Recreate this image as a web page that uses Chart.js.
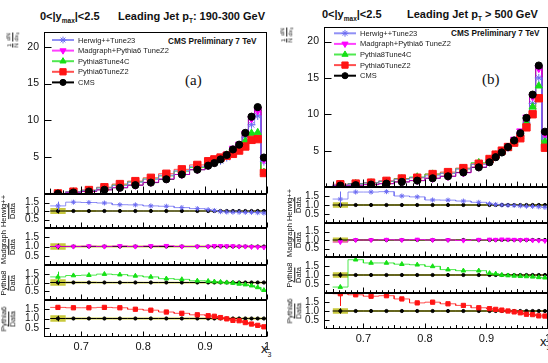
<!DOCTYPE html>
<html>
<head>
<meta charset="utf-8">
<title>x3 distributions, CMS 7 TeV</title>
<script src="https://cdn.jsdelivr.net/npm/chart.js@4.4.1/dist/chart.umd.min.js"></script>
<style>
  html, body { margin: 0; padding: 0; background: #fff; overflow: hidden; }
  body { position: relative; width: 548px; height: 363px; font-family: "Liberation Sans", Arial, sans-serif; color: #111; }
  canvas { position: absolute; }
  .lbl { position: absolute; white-space: nowrap; line-height: 1; }
  .title { font-weight: bold; font-size: 11px; }
  .title sub { font-size: 6.5px; position: relative; top: 3px; vertical-align: baseline; }
  .cms { font-weight: bold; font-size: 8.2px; }
  .pad { font-family: "Liberation Serif", serif; font-size: 15px; }
  .xtitle { font-size: 13px; }
  .xtitle sub { font-size: 7px; position: relative; top: 4px; vertical-align: baseline; }
  .rot { position: absolute; transform: translate(-50%, -50%) rotate(-90deg); white-space: nowrap; display: flex; align-items: center; gap: 2px; }
  .frac { display: inline-flex; flex-direction: column; align-items: center; line-height: 1.1; }
  .frac > span + span { border-top: 0.7px solid #111; }
  .rot sub { font-size: 0.7em; vertical-align: -0.3em; }
  .ytitle { font-size: 6px; }
  .rtitle { font-size: 7.5px; }
</style>
</head>
<body>
<div class="lbl title" style="left:40px;top:11px">0&lt;|y<sub>max</sub>|&lt;2.5</div>
<div class="lbl title" style="left:118px;top:11px">Leading Jet p<sub>T</sub>: 190-300 GeV</div>
<div class="lbl title" style="left:322px;top:9px">0&lt;|y<sub>max</sub>|&lt;2.5</div>
<div class="lbl title" style="left:407px;top:9px">Leading Jet p<sub>T</sub> &gt; 500 GeV</div>
<div class="lbl cms" style="left:168px;top:38px">CMS Preliminary 7 TeV</div>
<div class="lbl cms" style="left:451px;top:30px">CMS Preliminary 7 TeV</div>
<div class="lbl pad" style="left:185px;top:73px">(a)</div>
<div class="lbl pad" style="left:482px;top:72px">(b)</div>
<div class="lbl xtitle" style="left:261px;top:342px">x<sub>3</sub></div>
<div class="lbl xtitle" style="left:540px;top:335px">x<sub>3</sub></div>

<script>
// x3 bins: 0.025 wide up to 0.9, then 0.01 wide
const binEdges = [0.65, 0.675, 0.7, 0.725, 0.75, 0.775, 0.8, 0.825, 0.85, 0.875, 0.9,
                  0.91, 0.92, 0.93, 0.94, 0.95, 0.96, 0.97, 0.98, 0.99, 1.0];
const xTickVals = [0.7, 0.8, 0.9, 1.0];
const mainTickVals = [5, 10, 15, 20];
const ratioTickVals = [0.5, 1.0, 1.5];
const seriesNames = ["Herwig++Tune23", "Madgraph+Pythia6 TuneZ2", "Pythia8Tune4C", "Pythia6TuneZ2", "CMS"];
const ratioNames = ["Herwig++", "Madgraph", "Pythia8", "Pythia6"];
const dataOverData = [1, 1, 1, 1, 1, 1, 1, 1, 1, 1, 1, 1, 1, 1, 1, 1, 1, 1, 1, 1];

// (a) leading jet pT 190-300 GeV
const cmsA      = [0.05, 0.2, 0.34, 0.57, 0.85, 1.2, 1.55, 2.0, 2.65, 3.3, 3.85, 4.2, 4.7, 5.3, 6.05, 6.7, 8.3, 10.5, 11.8, 4.95];
const herwigA   = [0.07, 0.3, 0.5, 0.83, 1.15, 1.6, 2.0, 2.55, 3.15, 3.75, 4.15, 4.3, 4.5, 4.95, 5.6, 6.25, 7.7, 9.4, 10.6, 4.4];
const madgraphA = [0.05, 0.2, 0.35, 0.57, 0.88, 1.2, 1.6, 2.05, 2.65, 3.3, 3.85, 4.3, 4.85, 5.4, 6.2, 6.75, 8.2, 10.2, 11.3, 4.7];
const pythia8A  = [0.07, 0.28, 0.48, 0.84, 1.23, 1.65, 2.05, 2.45, 3.1, 3.6, 4.15, 4.4, 4.85, 5.3, 5.85, 6.2, 7.2, 8.25, 8.35, 2.95];
const pythia6A  = [0.08, 0.32, 0.54, 0.92, 1.35, 1.75, 2.2, 2.75, 3.35, 3.95, 4.45, 4.7, 4.95, 5.2, 5.45, 5.9, 6.45, 7.35, 7.45, 2.85];
const herwigRatioA   = [1.3, 1.52, 1.5, 1.47, 1.37, 1.36, 1.3, 1.28, 1.2, 1.14, 1.08, 1.03, 0.96, 0.94, 0.93, 0.93, 0.92, 0.92, 0.9, 0.88];
const madgraphRatioA = [1.0, 1.0, 1.02, 1.0, 1.03, 1.0, 1.03, 1.04, 1.0, 1.0, 1.0, 1.03, 1.03, 1.02, 1.02, 1.0, 1.0, 0.98, 0.97, 0.95];
const pythia8RatioA  = [1.32, 1.4, 1.42, 1.48, 1.45, 1.38, 1.32, 1.22, 1.18, 1.1, 1.08, 1.05, 1.03, 1.0, 0.97, 0.92, 0.88, 0.82, 0.72, 0.56];
const pythia6RatioA  = [1.6, 1.58, 1.58, 1.6, 1.58, 1.5, 1.45, 1.35, 1.28, 1.2, 1.15, 1.12, 1.05, 0.98, 0.9, 0.88, 0.78, 0.7, 0.63, 0.55];
const systA = [0.18, 0.06, 0.06, 0.05, 0.05, 0.05, 0.05, 0.05, 0.05, 0.05, 0.05, 0.05, 0.05, 0.05, 0.05, 0.05, 0.05, 0.05, 0.05, 0.05];
const firstBinErrA = [0.25, 0.1, 0.3, 0.12, 0.15]; // Herwig, Madgraph, Pythia8, Pythia6, CMS

// (b) leading jet pT > 500 GeV
const cmsB      = [0.2, 0.25, 0.33, 0.46, 0.7, 0.88, 1.2, 1.47, 2.0, 2.7, 3.4, 4.1, 4.75, 5.5, 6.4, 7.4, 9.5, 12.7, 16.7, 7.6];
const herwigB   = [0.27, 0.43, 0.57, 0.8, 1.05, 1.28, 1.55, 1.87, 2.45, 3.1, 3.65, 4.25, 4.8, 5.35, 6.2, 7.0, 8.8, 11.5, 15.0, 6.6];
const madgraphB = [0.18, 0.25, 0.34, 0.47, 0.7, 0.9, 1.2, 1.47, 1.95, 2.75, 3.5, 4.2, 4.95, 5.65, 6.55, 7.7, 9.6, 12.4, 16.3, 7.2];
const pythia8B  = [0.07, 0.46, 0.55, 0.76, 1.12, 1.38, 1.78, 1.9, 2.5, 3.35, 3.75, 4.4, 4.9, 5.35, 6.1, 6.9, 8.8, 11.0, 13.9, 6.2];
const pythia6B  = [0.38, 0.47, 0.6, 0.85, 1.17, 1.28, 1.78, 2.05, 2.6, 3.2, 3.85, 4.45, 5.0, 5.5, 6.1, 6.7, 8.2, 10.0, 12.2, 5.4];
const herwigRatioB   = [1.33, 1.72, 1.72, 1.74, 1.5, 1.45, 1.28, 1.27, 1.22, 1.15, 1.07, 1.03, 1.0, 0.98, 0.97, 0.95, 0.93, 0.92, 0.9, 0.87];
const madgraphRatioB = [0.88, 1.0, 1.0, 1.02, 1.0, 1.03, 1.0, 1.0, 0.97, 1.02, 1.03, 1.02, 1.04, 1.03, 1.02, 1.0, 1.02, 0.98, 0.97, 0.95];
const pythia8RatioB  = [0.33, 1.85, 1.67, 1.67, 1.6, 1.57, 1.48, 1.3, 1.24, 1.24, 1.1, 1.07, 1.0, 0.97, 0.95, 0.93, 0.92, 0.9, 0.87, 0.85];
const pythia6RatioB  = [1.96, 1.9, 1.82, 1.85, 1.67, 1.45, 1.49, 1.4, 1.31, 1.18, 1.13, 1.09, 1.05, 1.0, 0.95, 0.9, 0.82, 0.8, 0.73, 0.72];
const systB = [0.15, 0.06, 0.06, 0.05, 0.05, 0.05, 0.05, 0.05, 0.05, 0.05, 0.05, 0.05, 0.05, 0.05, 0.05, 0.05, 0.05, 0.05, 0.05, 0.05];
const firstBinErrB = [0.42, 0.1, 0, 0.68, 0.15];

// marker / line styles, same order as seriesNames
const styles = [
  { color: '#6b6bf2', line: 'rgba(107,107,242,0.75)', pointStyle: 'star', rotation: 0, rMain: 4, rRatio: 2.5 },
  { color: '#ff00ff', line: 'rgba(255,0,255,0.75)', pointStyle: 'triangle', rotation: 180, rMain: 4.2, rRatio: 2.6 },
  { color: '#16e016', line: 'rgba(22,224,22,0.75)', pointStyle: 'triangle', rotation: 0, rMain: 4.2, rRatio: 2.6 },
  { color: '#ff1414', line: 'rgba(255,20,20,0.75)', pointStyle: 'rect', rotation: 0, rMain: 5.2, rRatio: 3 },
  { color: '#000000', line: '#000000', pointStyle: 'circle', rotation: 0, rMain: 3.6, rRatio: 1.6 }
];
const markerOrder = [4, 3, 2, 1, 0];
const BAND = '#c9c93e';

const panels = [
  { main: [herwigA, madgraphA, pythia8A, pythia6A, cmsA],
    ratio: [herwigRatioA, madgraphRatioA, pythia8RatioA, pythia6RatioA],
    syst: systA, errs: firstBinErrA,
    left: 44, right: 267, xMin: 0.64, rows: [32, 194, 228, 265, 300, 337],
    legend: { left: 8, top: 8, step: 10.6 }, yTitle: [12.5, 40], ratioTitleX: 8.5 },
  { main: [herwigB, madgraphB, pythia8B, pythia6B, cmsB],
    ratio: [herwigRatioB, madgraphRatioB, pythia8RatioB, pythia6RatioB],
    syst: systB, errs: firstBinErrB,
    left: 324, right: 548, xMin: 0.636, rows: [27, 187, 223, 257, 293, 329],
    legend: { left: 10, top: 6.3, step: 10.6 }, yTitle: [286.5, 35], ratioTitleX: 295 }
];

const centers = binEdges.slice(1).map((e, i) => (binEdges[i] + e) / 2);
const asPoints = vals => vals.map((v, i) => ({ x: centers[i], y: v }));
const asSteps = vals => vals.flatMap((v, i) => [{ x: binEdges[i], y: v }, { x: binEdges[i + 1], y: v }]);

Chart.defaults.font.family = '"Liberation Sans", Arial, sans-serif';
Chart.defaults.color = '#111';

// ROOT-like frame, inward ticks and first-bin error bars
const rootFrame = {
  id: 'rootFrame',
  afterDatasetsDraw(chart, args, o) {
    const { ctx, chartArea: a, scales: { x, y } } = chart;
    ctx.save();
    ctx.lineWidth = 1;
    chart.data.datasets.forEach(ds => {
      if (!ds.errFirst) return;
      const p = ds.data[0];
      const px = Math.round(x.getPixelForValue(p.x)) + 0.5;
      ctx.strokeStyle = ds.pointBorderColor;
      ctx.beginPath();
      ctx.moveTo(px, Math.max(a.top, y.getPixelForValue(p.y + ds.errFirst)));
      ctx.lineTo(px, Math.min(a.bottom, y.getPixelForValue(p.y - ds.errFirst)));
      ctx.stroke();
    });
    ctx.strokeStyle = '#000';
    const L = Math.round(a.left) + 0.5, T = Math.round(a.top) + 0.5;
    const R = Math.round(a.right) - 0.5, B = Math.round(a.bottom) - 0.5;
    ctx.strokeRect(L, T, R - L, B - T);
    ctx.beginPath();
    o.yTicks.forEach(v => {
      const py = Math.round(y.getPixelForValue(v)) + 0.5;
      ctx.moveTo(L, py); ctx.lineTo(L + o.yLen, py);
    });
    for (let k = Math.ceil(x.min * 100); k <= 100; k++) {
      const px = Math.round(x.getPixelForValue(k / 100)) + 0.5;
      const len = k % 10 === 0 ? o.xLen : (k % 5 === 0 ? o.xLen * 0.7 : o.xLen * 0.45);
      ctx.moveTo(px, B); ctx.lineTo(px, B - len);
    }
    ctx.stroke();
    ctx.restore();
  }
};

const legendBox = {
  id: 'legendBox',
  afterDraw(chart, args, o) {
    if (!o.items) return;
    const { ctx, chartArea: a } = chart;
    ctx.save();
    o.items.forEach((it, i) => {
      const yy = a.top + o.top + i * o.step;
      const x0 = a.left + o.left, x1 = x0 + 22;
      ctx.strokeStyle = it.line;
      ctx.lineWidth = 2;
      ctx.beginPath(); ctx.moveTo(x0, yy); ctx.lineTo(x1, yy); ctx.stroke();
      ctx.lineWidth = 1;
      ctx.strokeStyle = it.color; ctx.fillStyle = it.color;
      Chart.helpers.drawPoint(ctx, { pointStyle: it.pointStyle, rotation: it.rotation, radius: it.r, borderWidth: 1 }, (x0 + x1) / 2, yy);
      ctx.fillStyle = '#222';
      ctx.font = '7.5px "Liberation Sans"';
      ctx.textBaseline = 'middle';
      ctx.fillText(it.label, x1 + 4, yy + 0.5);
    });
    ctx.restore();
  }
};

const AXW = 40, PAD = 14, XH = 24;

function addCanvas(left, top, w, h) {
  const c = document.createElement('canvas');
  c.width = w; c.height = h;
  c.style.left = left + 'px'; c.style.top = top + 'px';
  c.style.width = w + 'px'; c.style.height = h + 'px';
  document.body.appendChild(c);
  return c;
}

function addRotLabel(cls, cx, cy, html) {
  const d = document.createElement('div');
  d.className = 'rot ' + cls;
  d.style.left = cx + 'px'; d.style.top = cy + 'px';
  d.innerHTML = html;
  document.body.appendChild(d);
}

function makeChart(p, row, datasets, yMax, yTicks, yFont, yFmt, legend) {
  const last = row === 4;
  const top = p.rows[row], bottom = p.rows[row + 1];
  const w = AXW + (p.right - p.left) + 14;
  const h = PAD + (bottom - top) + (last ? XH : PAD);
  const canvas = addCanvas(p.left - AXW, top - PAD, w, h);
  return new Chart(canvas, {
    type: 'line',
    data: { datasets },
    options: {
      responsive: false,
      animation: false,
      events: [],
      layout: { padding: { top: PAD, bottom: last ? 0 : PAD, left: 0, right: 14 } },
      scales: {
        x: {
          type: 'linear', min: p.xMin, max: 1.0, display: last,
          grid: { display: false, drawTicks: false }, border: { display: false },
          afterBuildTicks: s => { s.ticks = xTickVals.map(v => ({ value: v })); },
          afterFit: s => { s.height = last ? XH : 0; },
          ticks: { padding: 3, font: { size: 11 }, maxRotation: 0, autoSkip: false,
                   callback: v => (v === 1 ? '1' : v.toFixed(1)) }
        },
        y: {
          min: 0, max: yMax,
          grid: { display: false, drawTicks: false }, border: { display: false },
          afterBuildTicks: s => { s.ticks = yTicks.map(v => ({ value: v })); },
          afterFit: s => { s.width = AXW; },
          ticks: { padding: 5, font: { size: yFont }, callback: yFmt }
        }
      },
      plugins: {
        legend: { display: false },
        tooltip: { enabled: false },
        rootFrame: { yTicks, yLen: row === 0 ? 7 : 5, xLen: row === 0 ? 7 : 5 },
        legendBox: legend || {}
      }
    },
    plugins: [rootFrame, legendBox]
  });
}

panels.forEach(p => {
  // main distribution
  const mainSets = [];
  p.main.forEach((vals, s) => {
    const st = styles[s];
    mainSets.push({ data: asSteps(vals), borderColor: st.line, borderWidth: 1, pointRadius: 0, fill: false, order: 10 + s });
    mainSets.push({ data: asPoints(vals), showLine: false, pointStyle: st.pointStyle, pointRotation: st.rotation,
                    pointRadius: st.rMain, pointBackgroundColor: st.color, pointBorderColor: st.color,
                    pointBorderWidth: 1, order: markerOrder[s] });
  });
  const items = seriesNames.map((label, s) => ({ label, ...styles[s], r: styles[s].rMain * 0.85 }));
  makeChart(p, 0, mainSets, 22, mainTickVals, 10.5, v => String(v),
            { items, left: p.legend.left, top: p.legend.top, step: p.legend.step });
  addRotLabel('ytitle', p.yTitle[0], p.yTitle[1],
    '<span class="frac"><span>1</span><span>N</span></span><span class="frac"><span>dN</span><span>dx<sub>3</sub></span></span>');

  // ratio panels
  p.ratio.forEach((vals, k) => {
    const st = styles[k], cms = styles[4];
    const sets = [
      { data: asSteps(dataOverData.map((v, i) => v + p.syst[i])), borderWidth: 0, pointRadius: 0, fill: false, order: 30 },
      { data: asSteps(dataOverData.map((v, i) => v - p.syst[i])), borderWidth: 0, pointRadius: 0,
        fill: '-1', backgroundColor: BAND, order: 31 },
      { data: asSteps(dataOverData), borderColor: '#000', borderWidth: 1, pointRadius: 0, fill: false, order: 20 },
      { data: asPoints(dataOverData), showLine: false, pointStyle: 'circle', pointRadius: cms.rRatio,
        pointBackgroundColor: '#000', pointBorderColor: '#000', order: 5, errFirst: p.errs[4] },
      { data: asSteps(vals), borderColor: st.line, borderWidth: 1, pointRadius: 0, fill: false, order: 10 },
      { data: asPoints(vals), showLine: false, pointStyle: st.pointStyle, pointRotation: st.rotation,
        pointRadius: st.rRatio, pointBackgroundColor: st.color, pointBorderColor: st.color,
        pointBorderWidth: 1, order: 1, errFirst: p.errs[k] }
    ];
    makeChart(p, k + 1, sets, 2, ratioTickVals, 10, v => v.toFixed(1));
    addRotLabel('rtitle', p.ratioTitleX, (p.rows[k + 1] + p.rows[k + 2]) / 2,
      '<span class="frac"><span>' + ratioNames[k] + '</span><span>Data</span></span>');
  });
});
</script>
</body>
</html>
